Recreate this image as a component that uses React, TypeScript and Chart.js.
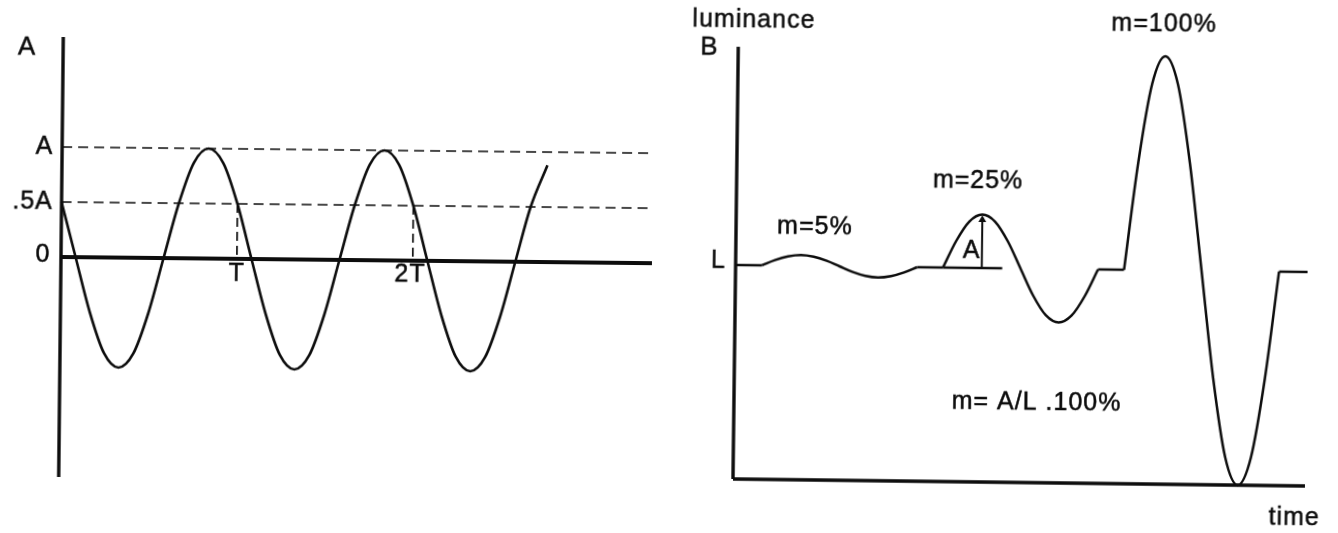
import { useEffect, useRef } from "react";
import { Chart, registerables } from "chart.js";

Chart.register(...registerables);

// ---------- Panel A: sinusoid of amplitude A and period T ----------
// time in units of T, value in units of A (sampled every T/12)
const waveATime = [
  0, 0.083, 0.167, 0.25, 0.333, 0.417, 0.5, 0.583, 0.667, 0.75, 0.833, 0.917,
  1, 1.083, 1.167, 1.25, 1.333, 1.417, 1.5, 1.583, 1.667, 1.75, 1.833, 1.917,
  2, 2.083, 2.167, 2.25, 2.333, 2.417, 2.5, 2.583, 2.667, 2.76,
];
const waveAValue = [
  0.5, 0, -0.5, -0.87, -1, -0.87, -0.5, 0, 0.5, 0.87, 1, 0.87,
  0.5, 0, -0.5, -0.87, -1, -0.87, -0.5, 0, 0.5, 0.87, 1, 0.87,
  0.5, 0, -0.5, -0.87, -1, -0.87, -0.5, 0, 0.5, 0.88,
];
const levelValuesA = [1, 0.5, 0];
const levelTicksA = ["A", ".5A", "0"];
const periodMarks = [1, 2];
const periodLabels = ["T", "2T"];
const axisA = { xMax: 3.36, yMin: -2, yMax: 2, dashEnd: 3.35 };

// ---------- Panel B: luminance bursts around the mean level L ----------
// time in units of one burst period, luminance in units of L
const burstPhase = [0, 0.083, 0.167, 0.25, 0.333, 0.417, 0.5, 0.583, 0.667, 0.75, 0.833, 0.917, 1];
const burstOnset = [0.17, 1.338, 2.506];
const burstLabels = ["m=5%", "m=25%", "m=100%"];
const burst5 = [1, 1.025, 1.043, 1.05, 1.043, 1.025, 1, 0.975, 0.957, 0.95, 0.957, 0.975, 1];
const burst25 = [1, 1.125, 1.217, 1.25, 1.217, 1.125, 1, 0.875, 0.783, 0.75, 0.783, 0.875, 1];
const burst100 = [1, 1.5, 1.87, 2, 1.87, 1.5, 1, 0.5, 0.13, 0, 0.13, 0.5, 1];
const steadyFrom = [0, 1.17, 2.338, 3.506];
const steadyTo = [0.17, 1.338, 2.506, 3.69];
const meanLuminance = 1;
const amplitudeRefEnd = 1.72; // baseline drawn under the 25% burst
const axisB = { xMax: 3.69, yMax: 2.02 };

const INK = "#0d0d0d";
const FONT = '"Liberation Sans", Arial, Helvetica, sans-serif';

type TextItem = { text: string; x: number; y: number; align?: CanvasTextAlign; size?: number };

const textPlugin = {
  id: "panelText",
  afterDatasetsDraw(chart: any, _args: any, opts: any) {
    const { ctx } = chart;
    const xs = chart.scales.x;
    const ys = chart.scales.y;
    ctx.save();
    for (const t of (opts.items || []) as TextItem[]) {
      ctx.font = `${t.size ?? 25}px ${FONT}`;
      (ctx as any).letterSpacing = "1px";
      ctx.fillStyle = INK;
      ctx.strokeStyle = INK;
      ctx.lineWidth = 0.5;
      ctx.textAlign = t.align ?? "center";
      ctx.textBaseline = "middle";
      const px = xs.getPixelForValue(t.x);
      const py = ys.getPixelForValue(t.y);
      ctx.fillText(t.text, px, py);
      ctx.strokeText(t.text, px, py);
    }
    ctx.restore();
  },
};

const seg = (pts: { x: number; y: number }[], width: number, dash: number[] = []) => ({
  data: pts,
  borderColor: INK,
  borderWidth: width,
  borderDash: dash,
  pointRadius: 0,
  tension: 0,
  clip: false as const,
  borderCapStyle: "butt" as const,
});

function baseOptions(xMax: number, yMin: number, yMax: number, padding: any, items: TextItem[]) {
  return {
    responsive: false,
    animation: false as const,
    events: [],
    layout: { padding },
    scales: {
      x: { type: "linear" as const, min: 0, max: xMax, display: false },
      y: { type: "linear" as const, min: yMin, max: yMax, display: false },
    },
    plugins: {
      legend: { display: false },
      tooltip: { enabled: false },
      panelText: { items },
    },
  };
}

function buildPanelA(canvas: HTMLCanvasElement) {
  const datasets: any[] = [];
  // axes
  datasets.push(seg([{ x: 0, y: axisA.yMin }, { x: 0, y: axisA.yMax }], 3.4));
  datasets.push(seg([{ x: 0, y: 0 }, { x: axisA.xMax, y: 0 }], 3.8));
  // dashed reference levels A and .5A
  levelValuesA.slice(0, 2).forEach((v) =>
    datasets.push(seg([{ x: 0, y: v }, { x: axisA.dashEnd, y: v }], 1.7, [10, 6]))
  );
  // dashed drops at T and 2T
  periodMarks.forEach((m) =>
    datasets.push(seg([{ x: m, y: levelValuesA[1] }, { x: m, y: 0 }], 1.7, [9, 5]))
  );
  // the sinusoid
  datasets.push({
    ...seg(waveATime.map((t, i) => ({ x: t, y: waveAValue[i] })), 2.6),
    cubicInterpolationMode: "monotone",
  });

  const items: TextItem[] = [
    { text: "A", x: -0.205, y: 1.9, size: 26 },
    ...levelTicksA.map((s, i) => ({
      text: s,
      x: i === 2 ? -0.06 : -0.05,
      y: levelValuesA[i] + (i === 2 ? 0.02 : 0),
      align: "right" as CanvasTextAlign,
    })),
    { text: periodLabels[0], x: periodMarks[0], y: -0.14 },
    { text: periodLabels[1], x: periodMarks[1] - 0.015, y: -0.13 },
  ];

  return new Chart(canvas, {
    type: "line",
    data: { datasets },
    options: baseOptions(axisA.xMax, axisA.yMin, axisA.yMax, { left: 61, right: 686, top: 37, bottom: 56 }, items) as any,
    plugins: [textPlugin],
  });
}

function buildPanelB(canvas: HTMLCanvasElement) {
  const datasets: any[] = [];
  // axes
  datasets.push(seg([{ x: 0, y: 0 }, { x: 0, y: axisB.yMax }], 3.4));
  datasets.push(seg([{ x: 0, y: 0 }, { x: axisB.xMax, y: 0 }], 3.4));
  // steady stretches at the mean level L
  steadyFrom.forEach((f, i) =>
    datasets.push(seg([{ x: f, y: meanLuminance }, { x: steadyTo[i], y: meanLuminance }], 2.5))
  );
  // baseline from which the amplitude A is measured
  datasets.push(seg([{ x: steadyTo[1], y: meanLuminance }, { x: amplitudeRefEnd, y: meanLuminance }], 2.3));
  // three modulated bursts
  [burst5, burst25, burst100].forEach((vals, b) =>
    datasets.push({
      ...seg(burstPhase.map((p, i) => ({ x: burstOnset[b] + p, y: vals[i] })), 2.5),
      cubicInterpolationMode: "monotone",
    })
  );
  // amplitude arrow on the 25% burst
  const peakX = burstOnset[1] + burstPhase[3];
  const peakY = burst25[3];
  datasets.push(seg([{ x: peakX, y: meanLuminance }, { x: peakX, y: peakY - 0.02 }], 2));
  datasets.push({
    data: [{ x: peakX, y: peakY - 0.025 }],
    showLine: false,
    pointStyle: "triangle",
    pointRadius: 4.5,
    pointBorderWidth: 0,
    pointBackgroundColor: INK,
    clip: false,
  });

  const items: TextItem[] = [
    { text: "luminance", x: 0.099, y: 2.142 },
    { text: "B", x: -0.186, y: 2.015, size: 26 },
    { text: "L", x: -0.111, y: 1.02 },
    { text: burstLabels[0], x: 0.509, y: 1.18 },
    { text: burstLabels[1], x: 1.557, y: 1.406 },
    { text: burstLabels[2], x: 2.745, y: 2.148 },
    { text: "A", x: 1.521, y: 1.077 },
    { text: "m= A/L .100%", x: 1.952, y: 0.375 },
    { text: "time", x: 3.623, y: -0.15 },
  ];

  return new Chart(canvas, {
    type: "line",
    data: { datasets },
    options: baseOptions(axisB.xMax, 0, axisB.yMax, { left: 733, right: 33, top: 46.7, bottom: 54 }, items) as any,
    plugins: [textPlugin],
  });
}

export default function App() {
  const refA = useRef<HTMLCanvasElement>(null);
  const refB = useRef<HTMLCanvasElement>(null);

  useEffect(() => {
    const a = buildPanelA(refA.current!);
    const b = buildPanelB(refB.current!);
    return () => {
      a.destroy();
      b.destroy();
    };
  }, []);

  const canvasStyle: React.CSSProperties = { position: "absolute", left: 0, top: 0, width: 1338, height: 533 };

  return (
    <div style={{ position: "fixed", left: 0, top: 0, width: 1338, height: 533, background: "#fff", overflow: "hidden" }}>
      <canvas
        ref={refA}
        width={1338}
        height={533}
        style={{ ...canvasStyle, transform: "rotate(0.6deg)", transformOrigin: "61px 257px" }}
      />
      <canvas
        ref={refB}
        width={1338}
        height={533}
        style={{ ...canvasStyle, transform: "rotate(0.7deg)", transformOrigin: "733px 479px" }}
      />
    </div>
  );
}
